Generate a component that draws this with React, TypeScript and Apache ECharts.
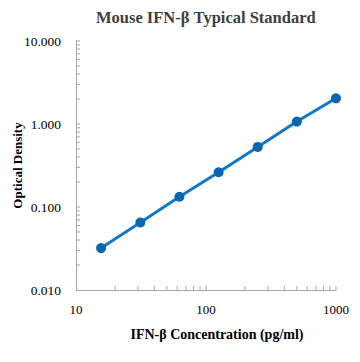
import React, { useEffect, useRef } from "react";
import * as echarts from "echarts";

const concentrations = [15.6, 31.25, 62.5, 125, 250, 500, 1000];
const odValues = [0.032, 0.065, 0.133, 0.262, 0.53, 1.07, 2.04];
const xMinorTicks = [20, 30, 40, 50, 60, 70, 80, 90, 100, 200, 300, 400, 500, 600, 700, 800, 900, 1000];
const yMinorTicks = [
  0.02, 0.03, 0.04, 0.05, 0.06, 0.07, 0.08, 0.09, 0.1,
  0.2, 0.3, 0.4, 0.5, 0.6, 0.7, 0.8, 0.9, 1,
  2, 3, 4, 5, 6, 7, 8, 9, 10,
];

const FONT = "Liberation Serif";
const AXIS_COLOR = "#A6A6A6";

export default function App() {
  const ref = useRef<HTMLDivElement>(null);
  useEffect(() => {
    if (!ref.current) return;
    const chart = echarts.init(ref.current, undefined, { renderer: "svg" });
    chart.setOption({
      animation: false,
      backgroundColor: "#ffffff",
      title: {
        text: "Mouse IFN-β Typical Standard",
        left: 96,
        top: 9,
        padding: 0,
        textStyle: { fontFamily: FONT, fontSize: 16.5, fontWeight: "bold", color: "#404040" },
      },
      grid: { left: 76, right: 24, top: 41, bottom: 72, outerBoundsMode: "none", containLabel: false },
      xAxis: {
        type: "log",
        logBase: 10,
        min: 10,
        max: 1000,
        name: "IFN-β Concentration (pg/ml)",
        nameLocation: "middle",
        nameGap: 37,
        nameMoveOverlap: false,
        nameTextStyle: {
          fontFamily: FONT,
          fontSize: 14,
          fontWeight: "bold",
          color: "#000",
          padding: [0, 0, 0, 22],
        },
        axisLine: { lineStyle: { color: AXIS_COLOR, width: 1 } },
        axisTick: { show: false },
        splitLine: { show: false },
        axisLabel: {
          fontFamily: FONT,
          fontSize: 13,
          color: "#000",
          margin: 13,
          formatter: (v: number) => String(Math.round(v)),
        },
      },
      yAxis: {
        type: "log",
        logBase: 10,
        min: 0.01,
        max: 10,
        name: "Optical Density",
        nameLocation: "middle",
        nameGap: 52,
        nameMoveOverlap: false,
        nameTextStyle: {
          fontFamily: FONT,
          fontSize: 13,
          fontWeight: "bold",
          color: "#000",
        },
        axisLine: { show: true, lineStyle: { color: AXIS_COLOR, width: 1 } },
        axisTick: { show: false },
        splitLine: { show: false },
        axisLabel: {
          fontFamily: FONT,
          fontSize: 13.5,
          color: "#000",
          margin: 15,
          formatter: (v: number) => v.toFixed(3),
        },
      },
      series: [
        {
          type: "custom",
          silent: true,
          clip: false,
          data: xMinorTicks.map((v) => [v, 0.01]),
          renderItem: (_params: any, api: any) => {
            const p = api.coord([api.value(0), api.value(1)]);
            return {
              type: "line",
              shape: { x1: p[0], y1: p[1], x2: p[0], y2: p[1] - 4 },
              style: { stroke: AXIS_COLOR, lineWidth: 1 },
            };
          },
          z: 1,
        },
        {
          type: "custom",
          silent: true,
          clip: false,
          data: yMinorTicks.map((v) => [10, v]),
          renderItem: (_params: any, api: any) => {
            const p = api.coord([api.value(0), api.value(1)]);
            return {
              type: "line",
              shape: { x1: p[0], y1: p[1], x2: p[0] + 4, y2: p[1] },
              style: { stroke: AXIS_COLOR, lineWidth: 1 },
            };
          },
          z: 1,
        },
        {
          type: "line",
          data: concentrations.map((c, i) => [c, odValues[i]]),
          symbol: "circle",
          symbolSize: 10,
          lineStyle: { color: "#1177C7", width: 3 },
          itemStyle: { color: "#0A66B0" },
          z: 3,
        },
      ],
    });
    return () => chart.dispose();
  }, []);
  return (
    <div
      ref={ref}
      style={{ position: "absolute", left: 0, top: 0, width: 360, height: 362 }}
    />
  );
}
